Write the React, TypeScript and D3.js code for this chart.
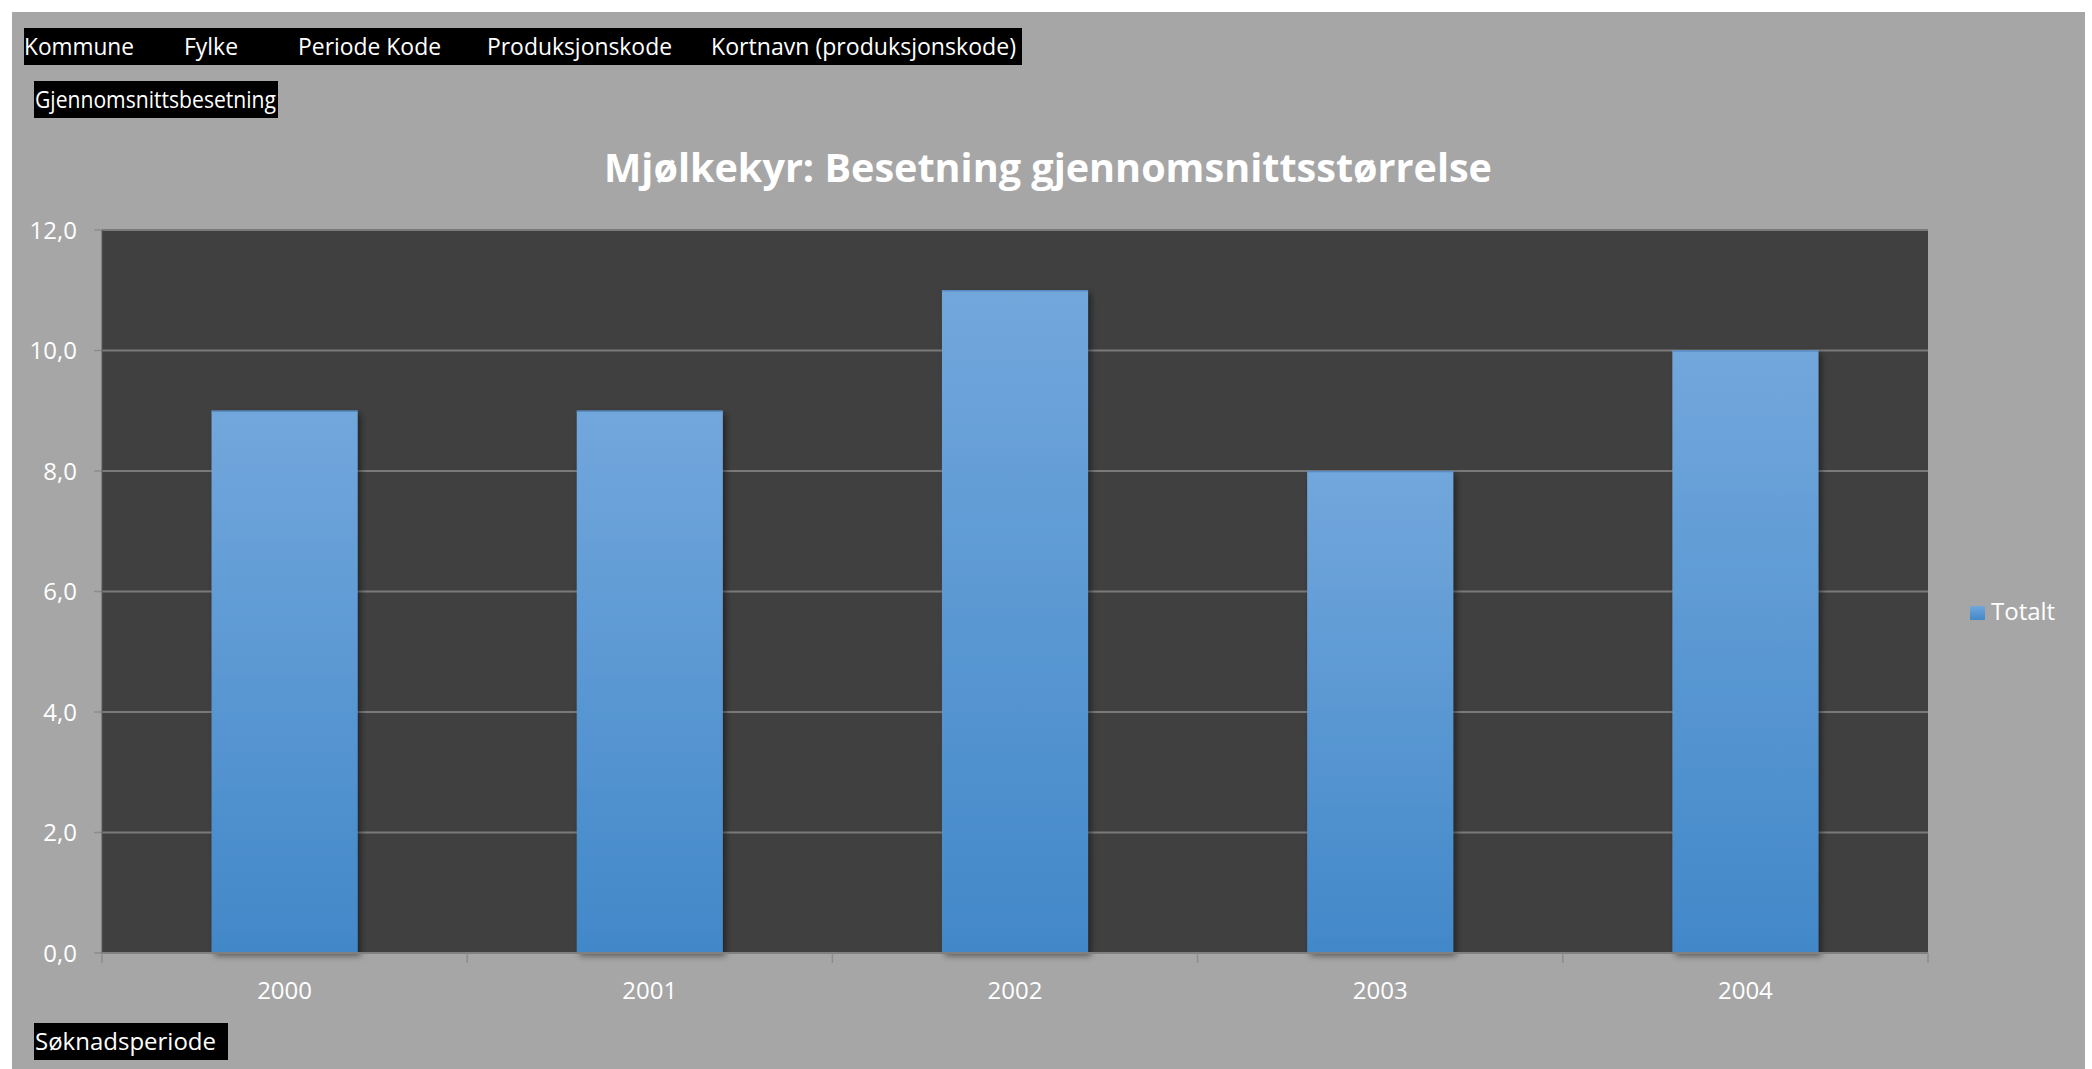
import React from "react";
import * as d3 from "d3";

const years: string[] = ["2000", "2001", "2002", "2003", "2004"];
const totalt: number[] = [9, 9, 11, 8, 10];
const yTicks: number[] = [0, 2, 4, 6, 8, 10, 12];
const headerFields: string[] = ["Kommune", "Fylke", "Periode Kode", "Produksjonskode", "Kortnavn (produksjonskode)"];
const headerX: number[] = [24, 184, 298, 487, 711];
const headerW: number[] = [110, 54, 143, 185, 305];
const valueField = "Gjennomsnittsbesetning";
const axisField = "Søknadsperiode";
const title = "Mjølkekyr: Besetning gjennomsnittsstørrelse";
const seriesName = "Totalt";

const W = 2092;
const H = 1069;
const plot = { left: 102, right: 1928, top: 230, bottom: 953 };
const FONT = "'Open Sans', 'DejaVu Sans', sans-serif";

export default function App() {
  const x = d3.scaleBand<string>().domain(years).range([plot.left, plot.right]).paddingInner(0.6).paddingOuter(0.3);
  const xb = d3.scaleBand<string>().domain(years).range([plot.left, plot.right]);
  const y = d3.scaleLinear().domain([0, 12]).range([plot.bottom, plot.top]);
  const fmt = (v: number) => d3.format(".1f")(v).replace(".", ",");

  return (
    <svg width={W} height={H} style={{ position: "absolute", left: 0, top: 0, display: "block" }} fontFamily={FONT}>
      <defs>
        <linearGradient id="barGrad" x1="0" y1="0" x2="0" y2="1">
          <stop offset="0" stopColor="#72a7dc" />
          <stop offset="1" stopColor="#4288c9" />
        </linearGradient>
        <filter id="shadow" x="-10%" y="-10%" width="130%" height="130%">
          <feDropShadow dx="3" dy="3" stdDeviation="3" floodColor="#000" floodOpacity="0.45" />
        </filter>
      </defs>
      <rect x={0} y={0} width={W} height={H} fill="#ffffff" />
      <rect x={12} y={12} width={2085 - 12} height={H - 12} fill="#a6a6a6" />

      {/* header field buttons */}
      <rect x={24} y={28} width={1022 - 24} height={37} fill="#000" />
      {headerFields.map((f, i) => (
        <text key={f} x={headerX[i]} y={55} fill="#fff" fontSize={24} textLength={headerW[i]} lengthAdjust="spacingAndGlyphs">
          {f}
        </text>
      ))}
      <rect x={34} y={81} width={278 - 34} height={37} fill="#000" />
      <text x={35} y={108} fill="#fff" fontSize={24} textLength={241} lengthAdjust="spacingAndGlyphs">
        {valueField}
      </text>

      {/* title */}
      <text x={604} y={182} fill="#fff" fontSize={39} fontWeight="bold" textLength={888} lengthAdjust="spacingAndGlyphs">
        {title}
      </text>

      {/* plot area */}
      <rect x={plot.left} y={plot.top} width={plot.right - plot.left} height={plot.bottom - plot.top} fill="#404040" />
      {yTicks.map((t) => (
        <g key={t}>
          {t > 0 && (
            <line x1={plot.left} x2={plot.right} y1={y(t)} y2={y(t)} stroke="#7a7a7a" strokeWidth={2} />
          )}
          <line x1={94} x2={plot.left} y1={y(t)} y2={y(t)} stroke="#8c8c8c" strokeWidth={1.5} />
          <text x={77} y={y(t) + 8.5} fill="#fff" fontSize={24} textAnchor="end">
            {fmt(t)}
          </text>
        </g>
      ))}
      <line x1={plot.left} x2={plot.left} y1={plot.top} y2={plot.bottom} stroke="#5a5a5a" strokeWidth={1} />

      {/* bars */}
      {years.map((yr, i) => (
        <g key={yr}>
          <rect
            x={x(yr)!}
            y={y(totalt[i])}
            width={x.bandwidth()}
            height={plot.bottom - y(totalt[i])}
            fill="url(#barGrad)"
            filter="url(#shadow)"
          />
          <line x1={x(yr)!} x2={x(yr)! + x.bandwidth()} y1={y(totalt[i]) + 0.5} y2={y(totalt[i]) + 0.5} stroke="#5a8cc4" strokeWidth={1.5} />
        </g>
      ))}

      {/* x axis */}
      <line x1={plot.left} x2={plot.right} y1={plot.bottom} y2={plot.bottom} stroke="#808080" strokeWidth={2} />
      {[...years.map((yr) => xb(yr)!), plot.right].map((px, i) => (
        <line key={i} x1={px} x2={px} y1={plot.bottom} y2={plot.bottom + 10} stroke="#8c8c8c" strokeWidth={1.5} />
      ))}
      {years.map((yr) => (
        <text key={yr} x={xb(yr)! + xb.bandwidth() / 2} y={999} fill="#fff" fontSize={24} textAnchor="middle">
          {yr}
        </text>
      ))}

      {/* legend */}
      <rect x={1970} y={606} width={15} height={14} fill="url(#barGrad)" />
      <text x={1991} y={620} fill="#fff" fontSize={24}>
        {seriesName}
      </text>

      {/* axis field button */}
      <rect x={34} y={1023} width={228 - 34} height={37} fill="#000" />
      <text x={35} y={1050} fill="#fff" fontSize={24}>
        {axisField}
      </text>
    </svg>
  );
}
